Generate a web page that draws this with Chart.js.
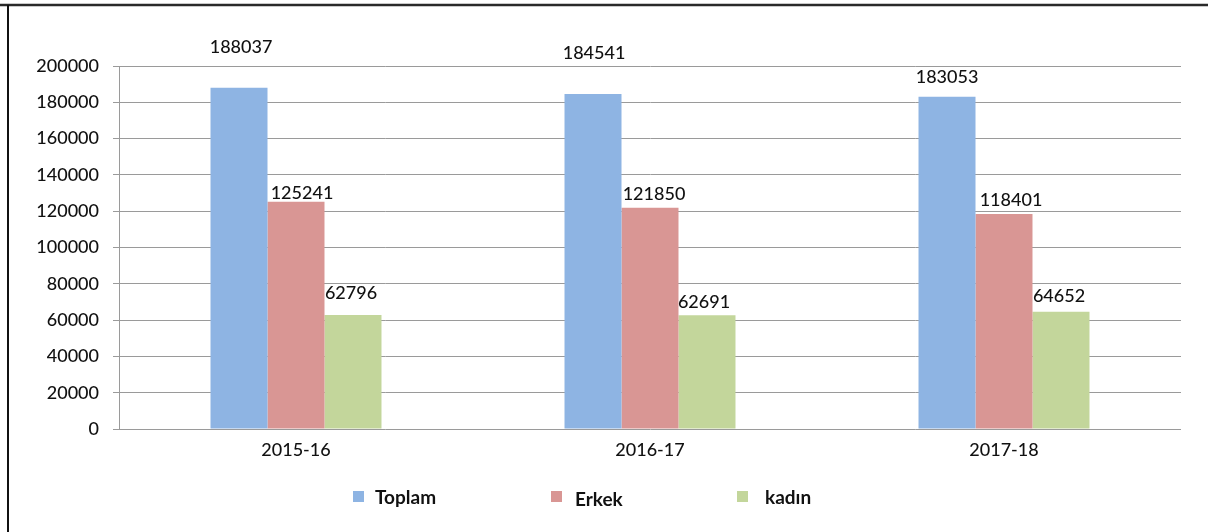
<!DOCTYPE html>
<html>
<head>
<meta charset="utf-8">
<script src="https://cdn.jsdelivr.net/npm/chart.js@4"></script>
<style>
html,body{margin:0;padding:0;background:#fff;}
#wrap{width:1208px;height:532px;position:relative;}
</style>
</head>
<body>
<div id="wrap"><canvas id="c" width="1208" height="532"></canvas></div>
<script>
const categories = ['2015-16', '2016-17', '2017-18'];
const toplam = [188037, 184541, 183053];
const erkek = [125241, 121850, 118401];
const kadin = [62796, 62691, 64652];
const seriesNames = ['Toplam', 'Erkek', 'kadın'];
const yTicks = [0, 20000, 40000, 60000, 80000, 100000, 120000, 140000, 160000, 180000, 200000];

const colors = ['#8EB4E3', '#D99694', '#C3D69B'];
const FONT = 'Lato, "DejaVu Sans", sans-serif';

// per-bar label nudges [dx, dy above bar top] (style only)
const labelNudge = [
  [[2, 41], [1, 41], [0, 20]],
  [[6, 9], [4, 14], [7, 14]],
  [[-2, 22], [-3, 13], [-2, 15]]
];

const framePlugin = {
  id: 'frame',
  beforeDraw(chart) {
    const ctx = chart.ctx;
    ctx.save();
    ctx.fillStyle = '#fff';
    ctx.fillRect(0, 0, chart.width, chart.height);
    ctx.strokeStyle = '#2a2a2a';
    ctx.lineWidth = 2.5;
    ctx.beginPath();
    ctx.moveTo(0, 5);
    ctx.lineTo(chart.width, 5);
    ctx.stroke();
    ctx.lineWidth = 2;
    ctx.strokeStyle = '#111';
    ctx.beginPath();
    ctx.moveTo(8, 5);
    ctx.lineTo(8, chart.height);
    ctx.stroke();
    ctx.restore();
  }
};

const valueLabels = {
  id: 'valueLabels',
  afterDatasetsDraw(chart) {
    const ctx = chart.ctx;
    ctx.save();
    ctx.font = '500 18px ' + FONT;
    ctx.fillStyle = '#111';
    ctx.textAlign = 'center';
    ctx.textBaseline = 'middle';
    chart.data.datasets.forEach((ds, di) => {
      const meta = chart.getDatasetMeta(di);
      meta.data.forEach((bar, i) => {
        const n = labelNudge[di][i];
        ctx.fillText(String(ds.data[i]), bar.x + n[0], bar.y - n[1]);
      });
    });
    ctx.restore();
  }
};

const legendPos = [[353, 375, 498], [551, 575, 500], [737, 765, 498]];
const customLegend = {
  id: 'customLegend',
  afterDraw(chart) {
    const ctx = chart.ctx;
    ctx.save();
    ctx.font = 'bold 19px ' + FONT;
    ctx.textBaseline = 'middle';
    ctx.textAlign = 'left';
    chart.data.datasets.forEach((ds, di) => {
      const p = legendPos[di];
      ctx.fillStyle = ds.backgroundColor;
      ctx.fillRect(p[0], 491, 11, 11);
      ctx.fillStyle = '#111';
      ctx.fillText(ds.label, p[1], p[2]);
    });
    ctx.restore();
  }
};

new Chart(document.getElementById('c'), {
  type: 'bar',
  data: {
    labels: categories,
    datasets: [
      { label: seriesNames[0], data: toplam, backgroundColor: colors[0] },
      { label: seriesNames[1], data: erkek, backgroundColor: colors[1] },
      { label: seriesNames[2], data: kadin, backgroundColor: colors[2] }
    ]
  },
  options: {
    responsive: false,
    animation: false,
    devicePixelRatio: 1,
    layout: { padding: { left: 0, right: 27, top: 66, bottom: 63 } },
    datasets: { bar: { categoryPercentage: 0.483, barPercentage: 1 } },
    plugins: { legend: { display: false }, tooltip: { enabled: false } },
    scales: {
      x: {
        afterFit(s) { s.height = 40; },
        grid: { display: false, drawTicks: false },
        border: { display: false },
        ticks: { color: '#111', font: { family: FONT, size: 18, weight: '500' }, padding: 10 }
      },
      y: {
        min: 0, max: 200000,
        afterFit(s) { s.width = 119; },
        afterBuildTicks(s) { s.ticks = yTicks.map(v => ({ value: v })); },
        grid: { color: '#9a9a9a', lineWidth: 1, tickLength: 6, drawTicks: true },
        border: { display: true, color: '#9a9a9a', width: 1 },
        ticks: {
          color: '#111', font: { family: FONT, size: 18, weight: '500' }, padding: 14,
          callback: v => String(v)
        }
      }
    }
  },
  plugins: [framePlugin, valueLabels, customLegend]
});
</script>
</body>
</html>
